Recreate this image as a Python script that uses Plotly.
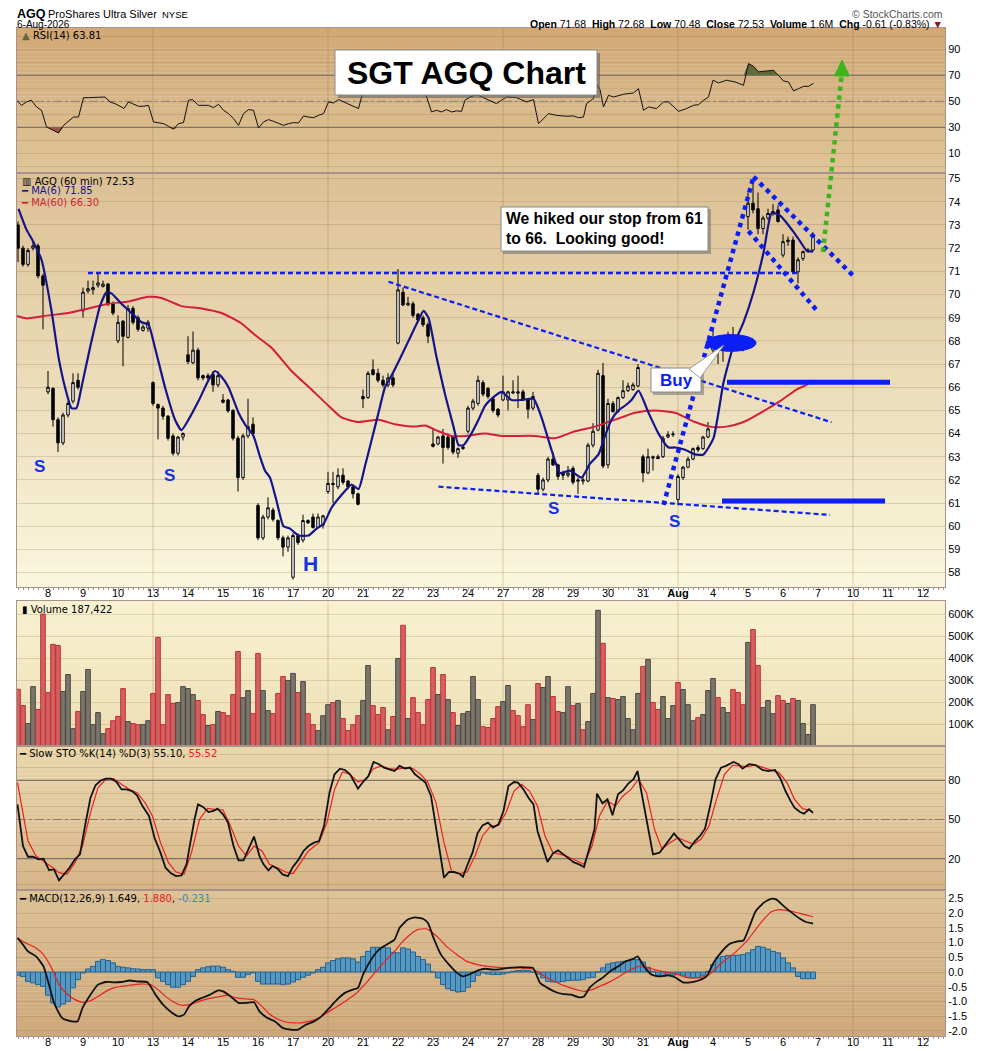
import plotly.graph_objects as go
from plotly.subplots import make_subplots
import numpy as np

# ---------------- data (60-min bars, bar 0 = first bar of Jul 8) ----------------
first_bar = -6

opens = [
    73.0, 72.0, 71.3, 72.0, 72.1, 70.8,                      # Jul 7
    65.8, 65.95, 64.6, 63.6, 64.8, 65.4, 66.3,               # Jul 8
    69.3, 70.15, 70.2, 70.4, 70.35, 70.45, 69.6,             # Jul 9
    68.0, 68.85, 68.15, 69.4, 69.0, 68.45, 68.55,            # Jul 10
    66.2, 65.25, 65.1, 64.75, 63.9, 63.15, 63.85,            # Jul 13
    67.4, 67.05, 67.6, 66.5, 66.5, 66.55, 66.1,              # Jul 14
    65.45, 65.45, 65.0, 63.8, 62.1, 63.9, 64.4,              # Jul 15
    60.9, 59.5, 60.4, 60.7, 60.25, 59.5, 59.1,               # Jul 16
    57.8, 59.6, 59.4, 60.25, 60.4, 59.95, 60.05,             # Jul 17
    61.5, 61.85, 61.7, 62.2, 61.95, 61.7, 61.4,              # Jul 20
    65.6, 65.55, 66.75, 66.6, 66.3, 66.1, 66.4,              # Jul 21
    67.9, 70.1, 69.55, 69.6, 69.15, 69.0, 68.7,              # Jul 22
    63.55, 63.55, 63.9, 63.85, 63.85, 63.15, 63.35,          # Jul 23
    64.1, 65.1, 65.3, 66.2, 65.95, 65.5, 65.05,              # Jul 24
    65.45, 65.45, 65.75, 65.8, 65.8, 65.45, 65.1,            # Jul 27
    62.2, 61.6, 62.0, 62.9, 62.65, 62.3, 62.2,               # Jul 28
    62.5, 62.0, 61.95, 61.95, 63.5, 64.15, 66.5,             # Jul 29
    62.65, 65.3, 64.95, 65.55, 65.85, 65.9, 66.05,           # Jul 30
    63.0, 62.3, 63.0, 63.0, 63.0, 63.85, 63.95,              # Jul 31
    61.15, 62.1, 62.55, 62.9, 63.4, 63.35, 63.85,            # Aug 3
    67.6, 67.9, 67.6, 68.0, 68.2, 68.0, 67.8,                # Aug 4
    73.36, 73.94, 73.7, 72.85, 73.3, 73.5, 73.65,            # Aug 5
    71.7, 72.28, 72.35, 70.98, 71.55, 71.85, 71.92,          # Aug 6
]
highs = [
    73.15, 72.1, 72.0, 72.3, 72.2, 70.9,
    66.7, 66.0, 64.7, 64.9, 65.4, 66.6, 66.6,
    70.3, 70.6, 70.6, 70.9, 70.6, 70.5, 69.7,
    69.1, 68.9, 69.55, 69.5, 69.1, 68.7, 68.9,
    66.25, 65.3, 65.2, 64.8, 64.0, 63.9, 64.05,
    68.2, 68.4, 67.7, 66.55, 66.6, 66.7, 66.7,
    65.7, 65.5, 65.05, 63.9, 64.0, 65.5, 64.7,
    61.0, 60.5, 61.25, 60.8, 60.3, 59.6, 59.6,
    59.7, 59.7, 60.5, 60.3, 60.55, 60.55, 60.5,
    62.35, 62.35, 62.5, 62.5, 62.0, 61.8, 61.45,
    65.9, 66.7, 67.2, 66.8, 66.5, 66.6, 66.6,
    71.1, 70.3, 69.9, 69.7, 69.2, 69.1, 68.8,
    64.2, 63.9, 64.2, 64.0, 63.9, 63.4, 63.5,
    65.2, 65.5, 66.5, 66.3, 66.0, 65.55, 65.1,
    66.5, 65.85, 66.3, 66.5, 65.9, 65.5, 65.8,
    62.3, 62.1, 63.0, 63.2, 62.7, 62.4, 62.6,
    62.6, 62.1, 62.2, 63.6, 64.45, 66.75, 67.05,
    65.5, 65.4, 65.6, 66.3, 66.2, 66.2, 67.0,
    63.1, 63.35, 63.05, 63.1, 63.9, 64.1, 64.1,
    62.25, 62.6, 63.0, 63.4, 63.5, 63.9, 64.5,
    68.5, 68.1, 68.2, 68.4, 68.6, 68.1, 67.9,
    74.4, 74.8, 74.4, 73.4, 73.7, 73.9, 73.85,
    72.6, 72.5, 72.5, 71.6, 71.9, 72.0, 72.68,
]
lows = [
    71.4, 71.2, 71.2, 71.9, 70.7, 68.5,
    65.7, 64.3, 63.2, 63.5, 64.7, 65.3, 65.9,
    69.0, 70.05, 70.0, 70.3, 70.3, 69.5, 69.1,
    67.9, 66.9, 68.1, 68.7, 68.4, 68.4, 68.4,
    65.2, 63.75, 64.6, 63.7, 63.05, 63.05, 63.7,
    67.0, 67.0, 66.3, 66.3, 66.3, 65.8, 66.0,
    65.3, 64.9, 63.7, 61.5, 62.0, 63.8, 63.9,
    59.4, 59.4, 60.3, 60.2, 59.4, 58.7, 58.9,
    57.7, 59.2, 59.3, 60.1, 59.9, 59.9, 59.9,
    61.4, 61.0, 61.6, 61.8, 61.6, 61.2, 60.9,
    65.1, 65.5, 66.5, 66.2, 66.0, 66.0, 66.0,
    67.85, 69.5, 69.5, 69.0, 68.8, 68.6, 67.9,
    63.4, 63.5, 62.7, 63.3, 63.1, 62.95, 63.3,
    64.0, 65.0, 65.2, 65.6, 65.5, 64.9, 64.7,
    65.4, 65.0, 65.7, 65.1, 65.4, 64.65, 65.0,
    61.35, 61.5, 61.9, 62.6, 62.0, 62.0, 62.1,
    61.8, 61.4, 61.8, 61.9, 63.4, 64.1, 62.5,
    62.5, 64.9, 64.9, 65.5, 65.8, 65.85, 66.0,
    61.9, 62.25, 62.4, 62.9, 62.95, 63.8, 63.85,
    60.9, 62.0, 62.5, 62.85, 63.2, 63.3, 63.8,
    67.4, 67.0, 67.1, 67.9, 67.9, 67.6, 67.55,
    72.8, 73.5, 72.6, 72.6, 73.2, 73.4, 73.1,
    71.6, 72.1, 70.9, 70.48, 71.45, 71.8, 71.85,
]
closes = [
    72.0, 71.3, 71.9, 72.1, 70.8, 70.4,
    66.0, 64.6, 63.6, 64.8, 65.3, 66.2, 66.0,
    70.1, 70.25, 70.3, 70.5, 70.45, 69.6, 69.2,
    68.8, 68.2, 69.4, 68.8, 68.5, 68.6, 68.8,
    65.3, 65.1, 64.75, 63.8, 63.15, 63.85, 64.0,
    67.1, 67.6, 66.4, 66.4, 66.4, 66.1, 66.5,
    65.35, 64.98, 63.8, 62.1, 63.9, 64.3, 64.0,
    59.5, 60.4, 60.8, 60.3, 59.5, 59.1, 59.5,
    59.6, 59.3, 60.25, 60.15, 59.95, 60.4, 60.45,
    61.85, 61.8, 62.2, 61.9, 61.7, 61.4, 60.95,
    65.5, 66.6, 66.55, 66.3, 66.1, 66.4, 66.1,
    70.2, 69.55, 69.62, 69.1, 68.9, 68.7, 68.2,
    63.45, 63.85, 63.4, 63.4, 63.2, 63.35, 63.42,
    65.1, 65.4, 66.3, 65.7, 65.6, 65.0, 64.8,
    65.8, 65.8, 65.8, 65.75, 65.45, 65.05, 65.6,
    61.6, 62.0, 62.9, 62.65, 62.15, 62.2, 62.3,
    61.9, 61.95, 62.0, 63.5, 64.1, 66.6, 62.6,
    65.3, 64.95, 65.55, 65.85, 66.05, 66.1, 66.85,
    62.3, 63.0, 62.95, 62.92, 63.8, 63.95, 63.98,
    62.15, 62.55, 62.9, 63.35, 63.3, 63.85, 64.2,
    67.9, 67.6, 68.0, 68.2, 68.0, 67.8, 67.7,
    73.94, 73.65, 72.85, 73.3, 73.5, 73.58, 73.15,
    72.28, 72.35, 70.98, 71.5, 71.85, 71.92, 72.53,
]

# volume in thousands, and bar colour (g = up / grey, r = down / red)
volume_k = [
    258, 184, 102, 270, 166, 600,
    243, 462, 457, 248, 325, 79, 157,
    248, 348, 97, 152, 56, 79, 115,
    134, 261, 111, 102, 97, 97, 115,
    239, 494, 97, 234, 193, 198, 270,
    261, 234, 207, 143, 93, 97, 157,
    152, 138, 234, 430, 220, 252, 147,
    421, 252, 161, 147, 239, 316, 298,
    330, 243, 293, 147, 97, 70, 138,
    188, 198, 207, 125, 70, 97, 138,
    207, 366, 184, 143, 175, 74, 134,
    398, 549, 125, 220, 152, 97, 211,
    357, 234, 325, 211, 152, 93, 147,
    157, 316, 211, 88, 84, 125, 179,
    202, 275, 161, 138, 88, 188, 120,
    284, 266, 316, 225, 157, 152, 270,
    184, 193, 74, 111, 239, 617, 467,
    220, 216, 211, 225, 125, 74, 239,
    362, 394, 198, 166, 225, 125, 184,
    289, 257, 188, 115, 129, 143, 252,
    307, 220, 175, 152, 257, 243, 188,
    471, 530, 366, 175, 207, 147, 229,
    207, 193, 216, 207, 102, 52, 188,
]
volume_dir = ("rrggrr" "rrrgggr" "gggggrr" "rrgrrgg" "rrrrrgg" "ggrrgrg" "rrrrggr"
              "rggrrrg" "grgrrgg" "grgrrrr" "ggrrrgr" "grgrrrr" "rgrgrgg" "gggrrrr"
              "ggrrrrg" "rggrrgg" "rgrgggr" "grggggg" "rgrrggg" "rgggrgg" "grggrrr"
              "grrgggr" "rgrgggg")

ma6 = [(-5.9, 73.7), (-4.3, 72.8), (-3, 72.3), (-1.3, 71.5), (0.7, 69.3), (2.1, 67.3), (3.4, 66.0),
       (4.7, 65.1), (5.7, 65.1), (6.7, 66.0), (8.4, 67.7), (10.4, 69.5), (11.7, 70.1), (12.7, 70.05),
       (14.7, 69.6), (16.7, 69.2), (18.7, 68.8), (20.1, 68.7), (21.4, 67.7), (23.4, 66.0), (25.4, 64.6),
       (26.7, 64.15), (28.1, 64.6), (30.1, 65.4), (32.1, 66.3), (33.4, 66.7), (34.7, 66.45), (36.1, 66.0),
       (38.1, 64.9), (39.4, 64.4), (41.1, 63.9), (42.4, 63.0), (43.4, 62.4), (44.4, 62.1), (45.7, 61.1),
       (47.1, 60.0), (48.4, 59.9), (50.1, 59.6), (52.1, 59.6), (53.7, 59.9), (55.1, 60.1), (56.7, 60.8),
       (58.7, 61.35), (60.7, 61.8), (62.1, 61.6), (63.4, 62.6), (64.7, 63.7), (66.1, 64.9), (67.4, 66.0),
       (68.7, 66.5), (70.1, 67.1), (72.1, 68.0), (74.1, 68.9), (75.1, 69.3), (76.1, 69.0), (77.7, 67.3),
       (79.4, 65.7), (81.1, 64.3), (82.1, 63.5), (83.1, 63.5), (84.4, 63.9), (86.1, 64.6), (87.4, 65.2),
       (88.7, 65.5), (90.7, 65.8), (92.7, 65.45), (94.7, 65.45), (97.1, 65.5), (98.7, 64.7), (100.7, 63.3),
       (102.4, 62.3), (104.4, 62.4), (106.7, 62.1), (108.4, 62.7), (110.1, 63.1), (111.4, 63.9),
       (112.7, 64.6), (114.1, 65.0), (115.4, 65.2), (116.7, 65.45), (118.1, 65.85), (120.1, 64.9),
       (122.1, 64.0), (124.1, 63.4), (125.4, 63.4), (127.4, 63.3), (129.4, 63.1), (131.1, 63.1),
       (133.1, 63.8), (135.1, 66.2), (137.1, 67.8), (139.1, 68.8), (141.1, 70.1), (143.1, 71.8),
       (144.7, 73.5), (146.1, 73.46), (147.7, 73.1), (149.1, 72.7), (150.4, 72.3), (151.7, 71.9), (153, 71.85)]

ma60 = [(-6.2, 69.07), (-4.3, 68.97), (0.1, 69.1), (4.1, 69.2), (8.1, 69.4), (12.1, 69.6), (16.1, 69.7),
        (20.1, 69.9), (22.7, 69.85), (26.7, 69.5), (30.7, 69.4), (34.7, 69.2), (38.7, 68.75), (41.4, 68.25),
        (44.7, 67.7), (48.7, 66.7), (52.7, 65.9), (56.1, 65.2), (58.7, 64.7), (62.1, 64.5), (66.1, 64.6),
        (69.4, 64.4), (73.4, 64.3), (75.4, 64.35), (78.1, 64.1), (80.7, 63.9), (83.4, 63.9), (87.4, 64.0),
        (90.7, 63.9), (97.4, 63.9), (101.4, 63.8), (105.4, 64.1), (109.4, 64.3), (113.4, 64.6),
        (117.4, 64.9), (121.4, 65.0), (125.4, 64.9), (129.4, 64.5), (132.4, 64.3), (135.7, 64.3),
        (139.1, 64.5), (143.1, 64.97), (146.4, 65.4), (149.7, 65.9), (151.7, 66.1), (153, 66.3)]

rsi = [(-6.3, 50.8), (-5.3, 46.9), (-4.3, 49.5), (-3.3, 50.8), (-2.3, 45.6), (-1.3, 43.1), (-0.3, 30.3),
       (0.7, 28.2), (2.1, 25.6), (3.1, 31.5), (4.1, 34.9), (5.1, 37.9), (6.1, 37.9), (7.1, 52.8), (8.1, 52.8),
       (9.1, 52.8), (10.4, 53.3), (11.4, 53.3), (12.4, 49.5), (13.4, 48.2), (14.4, 46.2), (15.2, 44.4),
       (16.1, 49.5), (17.1, 47.7), (18.1, 46.2), (19.1, 46.2), (20.1, 46.9), (21.1, 34.1), (22.1, 33.6),
       (23.1, 32.8), (24.1, 30.8), (25.1, 28.5), (26.1, 32.8), (27.1, 33.6), (28.1, 50.8), (28.9, 51.3),
       (30.1, 46.9), (31.1, 46.9), (32.1, 46.9), (33.1, 45.1), (34.1, 47.7), (35.1, 43.1), (36.1, 40.5),
       (37.1, 36.7), (38.1, 31.5), (39.1, 40.5), (40.1, 43.6), (41.1, 43.1), (42.1, 29.5), (43.1, 34.1),
       (44.1, 35.9), (45.1, 34.6), (46.1, 32.8), (47.1, 31.5), (48.1, 32.8), (49.1, 33.6), (50.1, 33.3),
       (51.1, 38.7), (52.1, 37.9), (53.1, 37.4), (54.1, 39.2), (55.1, 40.5), (56.1, 49.5), (57.1, 48.7),
       (58.1, 51.3), (59.1, 49.5), (60.1, 48.2), (61.1, 46.2), (62.1, 44.4), (63.3, 62), (64.5, 66),
       (66, 64), (67.5, 62), (69, 61), (70.3, 72), (72, 68), (73.5, 65), (75, 62), (76.7, 41.8),
       (77.7, 43.1), (78.7, 41.8), (79.7, 43.6), (80.7, 41.8), (81.7, 42.6), (82.7, 42.3), (83.4, 50.8),
       (84.4, 53.3), (85.7, 55.1), (86.7, 53.5), (87.7, 51.8), (88.4, 50.8), (89.7, 48.2), (91.7, 53.3),
       (93.7, 52.8), (95.7, 49.5), (97.1, 51.3), (98.1, 32.8), (99.1, 36.7), (100.1, 40.5), (101.7, 39.2),
       (103.7, 38.5), (105.1, 38.7), (106.1, 37.4), (107.1, 37.9), (107.7, 48.2), (109.1, 52.1),
       (109.7, 63.6), (110.4, 59), (111.1, 45.6), (112.1, 54.6), (113.1, 53.3), (115.1, 55.4),
       (117.1, 56.4), (118.1, 59.7), (119.1, 43.1), (120.1, 45.6), (121.7, 44.4), (123.1, 49.5),
       (124.1, 49.5), (126.1, 42.3), (127.7, 44.4), (129.1, 46.9), (130.1, 47.4), (131.1, 50.8),
       (132.1, 53.3), (133.0, 66.2), (134.1, 64.1), (135.7, 66.2), (137.4, 64.9), (139.1, 62.3),
       (140.1, 79), (141.1, 76.9), (142.1, 72.6), (143.7, 73.3), (145.1, 73.8), (146.1, 70), (147.1, 65.6),
       (148.1, 64.9), (149.1, 58), (150.1, 59.7), (151.1, 61.5), (152.1, 61.5), (153.1, 63.8)]

sto_k = [(-6.1, 61.6), (-5.0, 29.7), (-4.0, 21.5), (-3.0, 21.5), (-1.9, 19.5), (-0.9, 20), (0.2, 11.3),
         (1.2, 11.8), (2.2, 3.4), (3.3, 8), (4.3, 13), (5.4, 19.5), (6.4, 23.3), (7.4, 45), (8.5, 66.7),
         (9.5, 76.2), (10.6, 80), (11.6, 81.3), (12.6, 81.3), (13.7, 78.7), (14.7, 73), (15.7, 73),
         (16.8, 71.8), (17.8, 68.5), (18.9, 60.3), (20.2, 52.7), (21.3, 36), (22.5, 24.6), (23.5, 13.1),
         (24.6, 8.8), (25.6, 6.7), (26.7, 7.2), (27.7, 15.7), (29.3, 50), (30.0, 61.6), (31.0, 59.6),
         (32.1, 55.7), (33.1, 56.5), (33.9, 58.3), (35.0, 54), (36.0, 47.6), (37.1, 29.7), (38.1, 18.7),
         (39.1, 18.7), (40.2, 28.4), (41.2, 36.9), (42.3, 22), (43.1, 15.7), (44.1, 11), (44.9, 14.4),
         (45.9, 12.3), (46.9, 8), (48.0, 6.7), (49.0, 13.9), (50.0, 18.7), (51.1, 25.9), (52.1, 29.7),
         (53.2, 32.3), (54.2, 33.5), (55.2, 45), (56.3, 70.5), (57.3, 84.6), (58.4, 88.9), (59.4, 87.9),
         (60.4, 84.6), (62.0, 73.6), (63.0, 78.7), (64.1, 83.3), (65.1, 94), (66.2, 92.3), (67.2, 89.7),
         (68.2, 88.4), (69.3, 87.1), (70.3, 91), (71.4, 88.9), (72.4, 89.7), (73.4, 84.6), (74.5, 81.3),
         (75.5, 78.2), (76.6, 68), (77.6, 45), (78.4, 24.6), (79.2, 5.4), (80.2, 9.8), (81.2, 9.8),
         (82.3, 8.5), (83.0, 6.2), (83.8, 14.4), (84.9, 24.6), (85.9, 39.4), (86.9, 45.5), (88.0, 47.6),
         (89.0, 43.7), (90.1, 46.3), (91.1, 56.5), (92.1, 75.7), (93.2, 78.7), (94.0, 78.2), (95.1, 73),
         (96.1, 66.7), (97.1, 61.6), (97.9, 41.2), (98.9, 29.7), (99.9, 17.4), (101.0, 24.1), (102.0, 26.4),
         (103.1, 23.3), (104.1, 20), (105.1, 17.4), (106.2, 15.7), (107.2, 13.6), (108.3, 28.4),
         (109.3, 42.5), (109.8, 69.8), (110.9, 62.4), (111.9, 65.4), (112.9, 53.2), (114.0, 69.3),
         (115.0, 72.3), (116.1, 77.7), (117.1, 80.8), (117.9, 87.1), (119.0, 65.4), (120.0, 45),
         (121.0, 23.3), (122.3, 24.6), (123.3, 29.7), (124.4, 35.3), (125.2, 39.4), (126.2, 34.8),
         (127.3, 29.7), (128.3, 27.7), (129.4, 33.5), (130.4, 37.4), (131.4, 43), (132.5, 61.6),
         (133.5, 80.8), (134.6, 89.7), (135.6, 91), (137.1, 94), (138.1, 92.3), (138.9, 88.9),
         (140.2, 92.3), (141.5, 91.7), (142.9, 87.9), (144.1, 87.1), (145.4, 87.9), (146.4, 82),
         (147.5, 71.8), (148.5, 64.2), (149.3, 59.1), (150.4, 55.7), (151.2, 54.5), (152.2, 57.8),
         (153.0, 55.1)]

sto_d = [(-6.1, 78.2), (-5.0, 55.2), (-4.0, 33.5), (-2.4, 22), (-0.9, 18.2), (0.7, 13.9), (2.2, 9.3),
         (3.8, 8), (5.4, 17), (6.9, 29.7), (8.5, 55.2), (10.0, 74.4), (11.6, 80.8), (13.1, 81.3), (14.7, 77),
         (16.3, 73), (17.8, 70.5), (19.4, 62.9), (20.9, 52.7), (22.5, 32.3), (24.1, 16.9), (25.6, 9.8),
         (27.2, 8), (28.7, 24.6), (30.3, 50), (31.9, 58.5), (33.4, 57.8), (35.0, 57.3), (36.5, 45),
         (38.1, 29.7), (39.7, 22), (41.2, 29.7), (42.8, 25.9), (44.3, 15.7), (45.9, 13.1), (47.5, 9.8),
         (49.0, 8.5), (50.6, 17), (52.1, 25.9), (54.2, 32.3), (55.8, 47.6), (57.3, 73), (58.9, 86.4),
         (60.4, 84.6), (62.0, 78.7), (63.6, 80.8), (65.1, 88.9), (66.7, 91), (68.2, 88.9), (69.8, 88.4),
         (71.4, 89.7), (72.9, 89.2), (74.5, 84.6), (76.0, 78.2), (77.6, 62.9), (79.2, 32.3), (80.7, 10.6),
         (82.3, 8.5), (83.8, 9.8), (85.4, 22), (86.9, 37.4), (88.5, 45), (90.1, 45.5), (91.6, 55.2),
         (93.2, 71.8), (94.7, 77), (96.3, 71.8), (97.9, 60.3), (99.4, 37.4), (101.0, 24.6), (102.5, 23.3),
         (104.1, 21.3), (105.7, 18.2), (107.2, 15.7), (108.8, 29.7), (110.3, 52.7), (111.9, 64.2),
         (113.5, 60.3), (115.0, 68), (116.6, 73), (118.1, 80.8), (119.7, 70.5), (121.3, 42.5),
         (122.8, 27.2), (124.4, 32.3), (126.0, 36.1), (127.5, 33.5), (129.1, 31), (130.6, 34.8),
         (132.2, 45), (133.7, 65.4), (135.3, 84.6), (136.9, 91.5), (138.4, 91), (140.0, 90.5),
         (141.5, 91.7), (143.1, 89.7), (144.6, 87.9), (146.2, 85.9), (147.8, 78.2), (149.3, 65.4),
         (150.9, 58.3), (152.2, 57.3), (153.0, 55.5)]

macd = [(-6.1, 1.16), (-5.0, 0.93), (-4.0, 0.70), (-2.4, 0.53), (-0.9, 0.19), (0.2, -0.43), (1.2, -1.05),
        (2.8, -1.56), (4.3, -1.66), (5.9, -1.68), (6.9, -1.22), (8.5, -0.77), (10.0, -0.43), (11.6, -0.34),
        (13.1, -0.35), (14.7, -0.34), (16.3, -0.29), (17.8, -0.32), (19.9, -0.35), (21.5, -0.77),
        (23.0, -1.11), (24.6, -1.36), (26.1, -1.51), (27.2, -1.45), (28.2, -1.17), (29.3, -1.00),
        (30.8, -0.88), (32.4, -0.77), (33.9, -0.63), (35.0, -0.66), (36.5, -0.83), (38.1, -1.05),
        (39.7, -1.05), (41.2, -1.03), (42.3, -1.34), (43.8, -1.56), (45.4, -1.68), (46.9, -1.90),
        (48.5, -1.96), (50.0, -1.96), (51.6, -1.79), (53.2, -1.68), (54.7, -1.51), (56.3, -1.22),
        (57.8, -0.94), (59.4, -0.71), (61.0, -0.60), (62.0, -0.54), (63.0, -0.09), (64.6, 0.42),
        (66.2, 0.76), (67.7, 0.93), (69.3, 1.10), (70.3, 1.50), (71.9, 1.78), (73.4, 1.86), (75.0, 1.81),
        (76.0, 1.67), (77.1, 1.16), (78.6, 0.59), (80.2, 0.25), (81.8, -0.03), (83.0, -0.15), (84.4, -0.07),
        (85.9, 0.05), (87.5, 0.11), (89.0, 0.08), (90.6, 0.10), (92.1, 0.14), (93.7, 0.16), (95.3, 0.16),
        (97.0, 0.14), (98.4, -0.37), (99.9, -0.54), (101.5, -0.68), (103.1, -0.75), (104.6, -0.77),
        (106.2, -0.86), (107.2, -0.83), (108.3, -0.54), (109.8, -0.32), (110.9, -0.20), (112.4, 0.02),
        (114.0, 0.19), (115.5, 0.36), (117.1, 0.45), (117.9, 0.53), (119.2, 0.19), (120.7, -0.09),
        (122.3, -0.15), (123.9, -0.11), (125.4, -0.18), (127.0, -0.35), (128.5, -0.35), (130.1, -0.29),
        (131.7, -0.15), (133.2, 0.34), (134.8, 0.70), (136.3, 0.95), (137.9, 1.04), (139.1, 1.07),
        (140.2, 1.50), (141.5, 2.06), (143.1, 2.35), (144.6, 2.49), (145.7, 2.46), (147.2, 2.23),
        (148.8, 2.01), (150.4, 1.81), (151.6, 1.70), (153.0, 1.65)]

signal = [(-6.1, 1.16), (-4.5, 0.99), (-2.4, 0.82), (-0.9, 0.59), (0.7, 0.14), (2.2, -0.43), (3.8, -0.75),
          (5.4, -0.94), (6.9, -1.03), (8.5, -0.98), (10.0, -0.83), (11.6, -0.66), (13.1, -0.54),
          (14.7, -0.49), (16.3, -0.45), (18.3, -0.41), (20.4, -0.43), (22.0, -0.60), (23.5, -0.83),
          (25.1, -1.02), (26.7, -1.13), (28.2, -1.11), (29.8, -1.03), (31.3, -0.94), (32.9, -0.88),
          (34.5, -0.83), (36.0, -0.79), (37.6, -0.88), (39.7, -0.92), (41.2, -0.94), (42.8, -1.17),
          (44.3, -1.43), (45.9, -1.60), (47.5, -1.70), (49.0, -1.73), (50.6, -1.73), (52.1, -1.68),
          (53.7, -1.60), (55.2, -1.45), (56.8, -1.28), (58.4, -1.11), (59.9, -0.94), (61.5, -0.75),
          (63.0, -0.49), (64.6, -0.18), (66.2, 0.14), (67.7, 0.42), (69.3, 0.70), (70.8, 1.01),
          (72.4, 1.27), (73.9, 1.44), (75.5, 1.47), (76.6, 1.38), (78.1, 1.16), (79.7, 0.87), (81.8, 0.59),
          (83.8, 0.36), (85.9, 0.25), (88.0, 0.19), (90.1, 0.16), (92.1, 0.14), (94.2, 0.14), (96.3, 0.12),
          (97.9, 0.02), (99.4, -0.15), (101.5, -0.34), (103.6, -0.49), (105.7, -0.60), (107.2, -0.66),
          (108.8, -0.60), (110.3, -0.49), (111.9, -0.37), (113.5, -0.23), (115.0, -0.07), (116.6, 0.08),
          (118.1, 0.19), (119.7, 0.16), (121.3, 0.08), (122.8, 0.02), (124.4, -0.03), (126.0, -0.09),
          (127.5, -0.18), (129.1, -0.20), (130.6, -0.18), (132.2, -0.09), (133.7, 0.14), (135.3, 0.39),
          (136.9, 0.59), (138.4, 0.82), (140.0, 1.10), (141.5, 1.44), (143.1, 1.78), (144.6, 2.04),
          (146.2, 2.12), (147.8, 2.09), (149.3, 2.04), (150.9, 1.97), (153.0, 1.88)]

macd_hist = [
    -0.11, -0.15, -0.32, -0.37, -0.43, -0.49, -0.79, -1.05, -1.19, -1.09, -1.00, -0.54, -0.26, -0.03, 0.10,
    0.19, 0.36, 0.42, 0.39, 0.31, 0.19, 0.16, 0.14, 0.11, 0.10, 0.08, 0.08, 0.08,
    -0.20, -0.32, -0.43, -0.52, -0.52, -0.43, -0.32, -0.15, 0.08, 0.14, 0.18, 0.20, 0.20, 0.16, 0.08,
    0.02, -0.18, -0.18, -0.09, -0.03, -0.32, -0.41, -0.41, -0.41, -0.41, -0.43, -0.41, -0.34, -0.26,
    -0.18, -0.11, -0.03, 0.08, 0.16, 0.31, 0.39, 0.45, 0.48, 0.48, 0.45, 0.34, 0.53, 0.70, 0.84, 0.84,
    0.84, 0.82, 0.67, 0.65, 0.82, 0.78, 0.68, 0.53, 0.42, 0.27, 0.00, -0.20, -0.43, -0.57, -0.63, -0.68,
    -0.66, -0.52, -0.32, -0.11, -0.03, -0.07, -0.09, -0.09, -0.07, -0.03, 0.02, 0.05, 0.06, 0.05, 0.00,
    -0.07, -0.20, -0.32, -0.34, -0.34, -0.32, -0.29, -0.28, -0.28, -0.26, -0.20, -0.18, 0.00, 0.14,
    0.27, 0.31, 0.34, 0.36, 0.39, 0.42, 0.42, 0.34, 0.16, 0.02, -0.11, -0.15, -0.11, -0.11, -0.07,
    -0.11, -0.18, -0.20, -0.18, -0.11, 0.02, 0.25, 0.48, 0.53, 0.56, 0.57, 0.57, 0.59, 0.65, 0.76, 0.87,
    0.84, 0.78, 0.70, 0.65, 0.48, 0.31, 0.14, -0.15, -0.23, -0.23, -0.23,
]

day_ticks = list(range(0, 182, 7))
day_labels = ["8", "9", "10", "13", "14", "15", "16", "17", "20", "21", "22", "23", "24", "27", "28",
              "29", "30", "31", "<b>Aug</b>", "4", "5", "6", "7", "10", "11", "12"]
monday_bars = [21, 56, 91, 126, 161]

price_ticks = list(range(58, 76))
rsi_ticks = [10, 30, 50, 70, 90]
vol_ticks = [100, 200, 300, 400, 500, 600]
sto_ticks = [20, 50, 80]
macd_ticks = [-2.0, -1.5, -1.0, -0.5, 0.0, 0.5, 1.0, 1.5, 2.0, 2.5]

# ---------------- page geometry ----------------
# the page body keeps its default 8px margin, so the figure starts 8px in;
# sizes below put the plot area on the target pixel grid
PAGE_OFF = 8
W, H = 990 - PAGE_OFF, 1051 - PAGE_OFF
PLOT_L, PLOT_R, PLOT_T, PLOT_B = 17, 945, 28, 1036      # plot area in target pixels
ML = PLOT_L - PAGE_OFF
MR = W - (PLOT_R - PAGE_OFF)
MT = PLOT_T - PAGE_OFF
MB = H - (PLOT_B - PAGE_OFF)


def px(x):
    return (x - PLOT_L) / (PLOT_R - PLOT_L)


def py(y):
    return (PLOT_B - y) / (PLOT_B - PLOT_T)


panels = {  # target-pixel top / bottom of each pane
    1: (28.3, 173.3), 2: (173.3, 587.0), 3: (601.3, 746.0), 4: (746.0, 889.0), 5: (891.0, 1036.0)}
panel_bg = {
    1: ((209, 168, 118), (223, 197, 152)),
    2: ((220, 192, 148), (250, 247, 221)),
    3: ((248, 242, 210), (236, 221, 176)),
    4: ((234, 215, 172), (214, 181, 137)),
    5: ((222, 195, 152), (205, 168, 122)),
}

FRAME = "#A8928A"
GRID = "rgba(140,105,60,0.22)"
VGRID = "rgba(140,105,60,0.30)"
BLUE = "#0A1EF5"
TXT = "Liberation Sans, Arial, sans-serif"
LEG = "DejaVu Sans, Verdana, sans-serif"

bars = list(range(first_bar, first_bar + len(closes)))
xr = [-6.2, 179.4]

fig = make_subplots(rows=5, cols=1, vertical_spacing=0.0)

# RSI
rx = [p[0] for p in rsi]
ry = [p[1] for p in rsi]
fig.add_trace(go.Scatter(x=rx, y=[70] * len(rx), mode="lines", line=dict(width=0), hoverinfo="skip"), 1, 1)
fig.add_trace(go.Scatter(x=rx, y=list(np.maximum(ry, 70)), mode="lines", line=dict(width=0),
                         fill="tonexty", fillcolor="#5F6B3A", hoverinfo="skip"), 1, 1)
fig.add_trace(go.Scatter(x=rx, y=[30] * len(rx), mode="lines", line=dict(width=0), hoverinfo="skip"), 1, 1)
fig.add_trace(go.Scatter(x=rx, y=list(np.minimum(ry, 30)), mode="lines", line=dict(width=0),
                         fill="tonexty", fillcolor="#9A5640", hoverinfo="skip"), 1, 1)
fig.add_trace(go.Scatter(x=rx, y=ry, mode="lines", line=dict(color="#111111", width=1)), 1, 1)

# price
fig.add_trace(go.Scatter(x=[p[0] for p in ma60], y=[p[1] for p in ma60], mode="lines",
                         line=dict(color="#D21E3C", width=2, shape="spline", smoothing=0.6)), 2, 1)
fig.add_trace(go.Candlestick(x=bars, open=opens, high=highs, low=lows, close=closes,
                             increasing=dict(line=dict(color="black", width=1), fillcolor="white"),
                             decreasing=dict(line=dict(color="black", width=1), fillcolor="black"),
                             whiskerwidth=0, hoverinfo="skip"), 2, 1)
fig.add_trace(go.Scatter(x=[p[0] for p in ma6], y=[p[1] for p in ma6], mode="lines",
                         line=dict(color="#14148C", width=2.2, shape="spline", smoothing=0.5)), 2, 1)

# volume
vol_fill = ["#7B766B" if d == "g" else "#D2625F" for d in volume_dir]
vol_edge = ["#4A4740" if d == "g" else "#C22E3C" for d in volume_dir]
fig.add_trace(go.Bar(x=bars, y=volume_k, width=0.92,
                     marker=dict(color=vol_fill, line=dict(color=vol_edge, width=1))), 3, 1)

# slow stochastic
fig.add_trace(go.Scatter(x=[p[0] for p in sto_d], y=[p[1] for p in sto_d], mode="lines",
                         line=dict(color="#E8221E", width=1.2)), 4, 1)
fig.add_trace(go.Scatter(x=[p[0] for p in sto_k], y=[p[1] for p in sto_k], mode="lines",
                         line=dict(color="#111111", width=1.8)), 4, 1)

# MACD
hist_x = list(range(first_bar, first_bar + len(macd_hist)))
fig.add_trace(go.Bar(x=hist_x, y=macd_hist, width=1.0,
                     marker=dict(color="#5798C3", line=dict(color="#22628E", width=1))), 5, 1)
fig.add_trace(go.Scatter(x=[p[0] for p in signal], y=[p[1] for p in signal], mode="lines",
                         line=dict(color="#E8221E", width=1.2, shape="spline", smoothing=0.5)), 5, 1)
fig.add_trace(go.Scatter(x=[p[0] for p in macd], y=[p[1] for p in macd], mode="lines",
                         line=dict(color="#111111", width=1.8, shape="spline", smoothing=0.5)), 5, 1)

# ---------------- shapes ----------------
shapes = []
NSTRIP = 36
for r, (top, bot) in panel_bg.items():
    yref = "y domain" if r == 1 else f"y{r} domain"
    xref = "x" if r == 1 else f"x{r}"
    for k in range(NSTRIP):
        t = (k + 0.5) / NSTRIP
        c = tuple(round(top[j] + (bot[j] - top[j]) * t) for j in range(3))
        shapes.append(dict(type="rect", xref=xref, yref=yref, x0=xr[0], x1=xr[1],
                           y0=1 - (k + 1) / NSTRIP, y1=1 - k / NSTRIP + 0.002,
                           fillcolor="rgb(%d,%d,%d)" % c, line=dict(width=0), layer="below"))
    for m in monday_bars:
        shapes.append(dict(type="line", xref=xref, yref=yref, x0=m, x1=m, y0=0, y1=1,
                           line=dict(color=VGRID, width=1), layer="below"))

# RSI / STO reference levels
for yref, lo, hi in (("y", 30, 70), ("y4", 20, 80)):
    for lv in (lo, hi):
        shapes.append(dict(type="line", xref="paper", yref=yref, x0=0, x1=1, y0=lv, y1=lv,
                           line=dict(color="#7A7670", width=1.3), layer="below"))
    shapes.append(dict(type="line", xref="paper", yref=yref, x0=0, x1=1, y0=50, y1=50,
                       line=dict(color="#8A8278", width=1, dash="dashdot"), layer="below"))


# chart annotations on the price pane (bar index / price coordinates)
def seg(x0, y0, x1, y1, width, dash=None, color=BLUE):
    d = dict(type="line", xref="x2", yref="y2", x0=x0, y0=y0, x1=x1, y1=y1,
             line=dict(color=color, width=width))
    if dash:
        d["line"]["dash"] = dash
    shapes.append(d)


seg(8.0, 70.93, 149.8, 70.93, 2.4, "5px,3px")
seg(68.1, 70.55, 156.7, 64.49, 2.2, "5px,3px")
seg(78.1, 61.71, 156.4, 60.49, 2.2, "5px,3px")
seg(135.8, 66.21, 168.4, 66.21, 5)
seg(134.8, 61.09, 167.4, 61.09, 5)
seg(123.1, 60.92, 141.1, 75.08, 4.5, "dot")
seg(141.1, 75.08, 160.9, 70.84, 4.5, "dot")
seg(140.1, 72.74, 153.7, 69.33, 4.5, "dot")
shapes.append(dict(type="circle", xref="x2", yref="y2", x0=131.6, x1=141.6, y0=67.55, y1=68.27,
                   fillcolor=BLUE, line=dict(color=BLUE, width=1)))


def prect(x0, y0, x1, y1, fill, edge=None, w=1):
    shapes.append(dict(type="rect", xref="paper", yref="paper", x0=px(x0), x1=px(x1), y0=py(y1),
                       y1=py(y0), fillcolor=fill,
                       line=dict(color=edge or fill, width=w if edge else 0)))


def ppath(pts, fill, edge=None, w=1, dash=None):
    p = "M " + " L ".join("%.5f,%.5f" % (px(a), py(b)) for a, b in pts)
    if fill:
        p += " Z"
    d = dict(type="path", xref="paper", yref="paper", path=p,
             line=dict(color=edge or "rgba(0,0,0,0)", width=w if edge else 0))
    if fill:
        d["fillcolor"] = fill
    if dash:
        d["line"]["dash"] = dash
    shapes.append(d)


# green target arrow
ppath([(823, 252), (841.5, 76)], None, "#3DB41E", 4.5, "dot")
ppath([(842, 60), (834.5, 76), (849.5, 76)], "#3DB41E", "#3DB41E", 1)

# boxes
prect(338, 53, 600, 98, "rgba(90,90,90,0.55)")
prect(335, 50, 597, 95, "white", "#8A8A8A", 1)
prect(503, 209, 711, 254, "rgba(90,90,90,0.45)")
prect(501, 207, 708, 251, "white", "#8A8A8A", 1)
prect(653, 370, 704, 395, "rgba(90,90,90,0.45)")
prect(651, 368, 701, 392, "white", "#8A8A8A", 1)
ppath([(689, 369), (700, 378), (724, 345)], "white", "#9A9A9A", 1)

# ---------------- text ----------------
annots = []


def ptext(x, y, text, size=11, color="black", family=TXT, xanchor="left", yanchor="middle", bg=None,
          align="left"):
    a = dict(xref="paper", yref="paper", x=px(x), y=py(y), text=text, showarrow=False, align=align,
             xanchor=xanchor, yanchor=yanchor, font=dict(family=family, size=size, color=color))
    if bg:
        a["bgcolor"] = bg
    annots.append(a)


ptext(15, 14, "<b>AGQ</b>", 12.5)
ptext(46, 14, "ProShares Ultra Silver", 11)
ptext(160, 14.5, "NYSE", 9.5)
ptext(15, 24.5, "6-Aug-2026", 10)
ptext(945, 14, "© StockCharts.com", 10.5, "#555555", xanchor="right")
ptext(945, 24.5, "<b>Open</b> 71.68&nbsp; <b>High</b> 72.68&nbsp; <b>Low</b> 70.48&nbsp; <b>Close</b> 72.53&nbsp; "
                 "<b>Volume</b> 1.6M&nbsp; <b>Chg</b> -0.61 (-0.83%) <span style='color:#8B1030'>▼</span>",
      10.5, xanchor="right")

ptext(20, 36, "<span style='color:#5F6B3A'>▲</span> RSI(14) 63.81", 10, family=LEG)
ptext(20, 181, "▥ AGQ (60 min) 72.53", 10, family=LEG)
ptext(19, 191, "━ MA(6) 71.85", 10, "#14148C", family=LEG)
ptext(19, 202, "━ MA(60) 66.30", 10, "#D21E3C", family=LEG)
ptext(20, 609, "▮ Volume 187,422", 10, family=LEG)
ptext(17, 753, "━ Slow STO %K(14) %D(3) 55.10, <span style='color:#E8221E'>55.52</span>", 10, family=LEG)
ptext(17, 898, "━ MACD(12,26,9) 1.649, <span style='color:#E8221E'>1.880</span>, "
               "<span style='color:#3A8CC0'>-0.231</span>", 10, family=LEG)

ptext(466, 73, "<b>SGT AGQ Chart</b>", 32, xanchor="center", align="center")
ptext(504, 229, "<b>We hiked our stop from 61<br>to 66.  Looking good!</b>", 15.7)
ptext(676, 380, "<b>Buy</b>", 17, BLUE, xanchor="center", align="center")

pattern_marks = [(-1.8, 62.6, "S", 17), (24.2, 62.2, "S", 17), (52.5, 58.4, "H", 21),
                 (101.1, 60.78, "S", 17), (125.2, 60.22, "S", 17)]
for bx, by, t, s in pattern_marks:
    annots.append(dict(xref="x2", yref="y2", x=bx, y=by, text="<b>%s</b>" % t, showarrow=False,
                       font=dict(family=TXT, size=s, color="#1432E6")))

# ---------------- axes ----------------
ycommon = dict(side="right", showline=True, linecolor=FRAME, mirror=True, ticks="", zeroline=False,
               tickfont=dict(family=TXT, size=11, color="black"), showgrid=True, gridcolor=GRID,
               gridwidth=1, fixedrange=True, automargin=False)
xcommon = dict(range=xr, showline=True, linecolor=FRAME, mirror=True, showgrid=False, zeroline=False,
               tickmode="array", tickvals=day_ticks, ticktext=day_labels, automargin=False,
               tickfont=dict(family=TXT, size=11, color="black"), fixedrange=True)
minor_x = dict(tickvals=list(range(-6, 180)), ticks="outside", ticklen=2, tickcolor=FRAME)

fig.update_layout(
    width=W, height=H, margin=dict(l=ML, r=MR, t=MT, b=MB, autoexpand=False),
    paper_bgcolor="white", plot_bgcolor="rgba(0,0,0,0)", showlegend=False,
    font=dict(family=TXT, size=11, color="black"),
    shapes=shapes, annotations=annots, hovermode=False,
    xaxis=dict(domain=[0, 1], showticklabels=False, ticks="", **xcommon),
    xaxis2=dict(domain=[0, 1], showticklabels=True, ticks="", ticklabelstandoff=-4,
                minor=minor_x, rangeslider=dict(visible=False), **xcommon),
    xaxis3=dict(domain=[0, 1], showticklabels=False, ticks="", **xcommon),
    xaxis4=dict(domain=[0, 1], showticklabels=False, ticks="", **xcommon),
    xaxis5=dict(domain=[0, 1], showticklabels=True, ticks="", ticklabelstandoff=-4,
                minor=minor_x, **xcommon),
    yaxis=dict(domain=[py(panels[1][1]), py(panels[1][0])], range=[-5.4, 106.15], tickvals=rsi_ticks,
               minor=dict(tickvals=[0, 20, 40, 60, 80, 100], showgrid=True, gridcolor=GRID), **ycommon),
    yaxis2=dict(domain=[py(panels[2][1]), py(panels[2][0])], range=[57.38, 75.23], tickvals=price_ticks,
                **ycommon),
    yaxis3=dict(domain=[py(panels[3][1]), py(panels[3][0])], range=[0, 658], tickvals=vol_ticks,
                ticktext=["%dK" % v for v in vol_ticks], **ycommon),
    yaxis4=dict(domain=[py(panels[4][1]), py(panels[4][0])], range=[-3.2, 106.25], tickvals=sto_ticks,
                minor=dict(tickvals=[0, 10, 30, 40, 60, 70, 90, 100], showgrid=True, gridcolor=GRID),
                **ycommon),
    yaxis5=dict(domain=[py(panels[5][1]), py(panels[5][0])], range=[-2.177, 2.755], tickvals=macd_ticks,
                ticktext=["%.1f" % v for v in macd_ticks], **ycommon),
)

fig.write_html("out.html")
